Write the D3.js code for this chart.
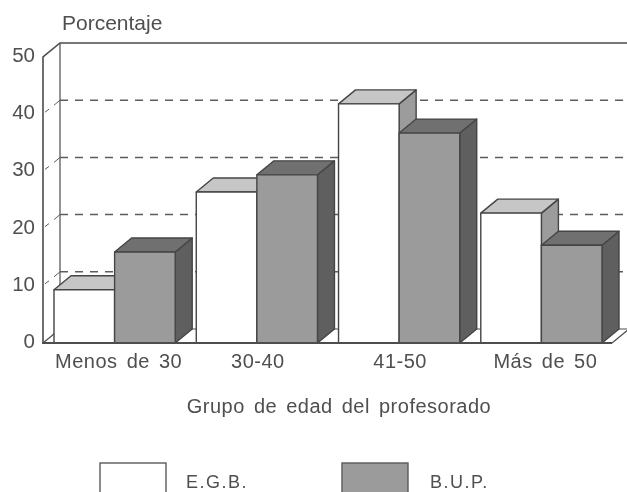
<!DOCTYPE html>
<html>
<head>
<meta charset="utf-8">
<script src="https://cdn.jsdelivr.net/npm/d3@7"></script>
<style>
html, body { margin: 0; padding: 0; background: #fff; overflow: hidden; }
text { font-family: "Liberation Sans", Arial, sans-serif; fill: #4f4f4f; }
</style>
</head>
<body>
<div id="chart"></div>
<script>
var categories = ["Menos de 30", "30-40", "41-50", "Más de 50"];
var seriesNames = ["E.G.B.", "B.U.P."];
var egbValues = [9.3, 26.4, 41.8, 22.7];
var bupValues = [15.9, 29.4, 36.7, 17.1];
var yTicks = [0, 10, 20, 30, 40, 50];
var gridValues = [10, 20, 30, 40];

function init() {
    var w = 627, h = 492;
    var dx = 17, dy = -14;   // depth offset of the 3d look
    var lineColor = "#4d4d4d";
    var shades = [
        { front: "#ffffff", top: "#c6c6c6", side: "#9c9c9c" },
        { front: "#9b9b9b", top: "#707070", side: "#5f5f5f" }
    ];

    var svg = d3.select("#chart").append("svg")
        .attr("width", w)
        .attr("height", h)
        .attr("viewBox", [0, 0, w, h]);

    // the reference is a scan, soften everything a little
    svg.append("filter").attr("id", "soft")
        .append("feGaussianBlur").attr("stdDeviation", 0.45);
    var root = svg.append("g").attr("filter", "url(#soft)");

    var xScale = d3.scaleBand().domain(categories).range([54, 602]).paddingInner(0.148);
    var xInner = d3.scaleBand().domain(seriesNames).range([0, xScale.bandwidth()]);
    var yScale = d3.scaleLinear().domain([0, 50]).range([343, 57]);

    var left = xScale.range()[0] - 11;
    var right = 612;
    var base = yScale(0);

    // back wall, floor and side wall
    var walls = root.append("g").attr("fill", "none").attr("stroke", lineColor);
    walls.append("path")
        .attr("stroke-width", 1.6)
        .attr("d", `M${left},${base}V${yScale(50)}l${dx},${dy}H${w}`);
    walls.append("path")
        .attr("stroke-width", 1.2)
        .attr("d", `M${left + dx},${yScale(50) + dy}V${base + dy}H${right + dx}`);
    walls.append("path")
        .attr("stroke-width", 1.2)
        .attr("d", `M${left},${base}l${dx},${dy}M${right},${base}l${dx},${dy}`);

    // dashed grid on the back wall with the short ticks on the side wall
    var grid = root.append("g").attr("stroke", "#5c5c5c").attr("fill", "none");
    grid.selectAll(".grid")
        .data(gridValues)
        .enter()
        .append("line")
        .attr("class", "grid")
        .attr("x1", left + dx)
        .attr("x2", w)
        .attr("y1", d => yScale(d) + dy)
        .attr("y2", d => yScale(d) + dy)
        .attr("stroke-width", 1.5)
        .attr("stroke-dasharray", "8,7");
    grid.selectAll(".side")
        .data(gridValues)
        .enter()
        .append("path")
        .attr("class", "side")
        .attr("stroke-width", 1)
        .attr("d", d => `M${left + 2},${yScale(d) - 2}l4,-3M${left + dx - 6},${yScale(d) + dy + 5}l6,-5`);

    // bars, E.G.B. first so B.U.P. sits over its side face
    var groups = root.selectAll(".group")
        .data(categories)
        .enter()
        .append("g")
        .attr("class", "group")
        .attr("transform", d => `translate(${xScale(d)},0)`);

    var barData = (d, i) => [
        { name: seriesNames[0], value: egbValues[i], s: shades[0] },
        { name: seriesNames[1], value: bupValues[i], s: shades[1] }
    ];
    var bars = groups.selectAll(".bar")
        .data((d) => barData(d, categories.indexOf(d)))
        .enter()
        .append("g")
        .attr("class", "bar")
        .attr("stroke", "#454545")
        .attr("stroke-width", 1.4)
        .attr("stroke-linejoin", "round");

    var bw = xInner.bandwidth();
    bars.append("path")
        .attr("fill", d => d.s.side)
        .attr("d", d => {
            var x = xInner(d.name) + bw;
            return `M${x},${base}V${yScale(d.value)}l${dx},${dy}V${base + dy}Z`;
        });
    bars.append("path")
        .attr("fill", d => d.s.top)
        .attr("d", d => {
            var x = xInner(d.name), y = yScale(d.value);
            return `M${x},${y}l${dx},${dy}h${bw}l${-dx},${-dy}Z`;
        });
    bars.append("rect")
        .attr("fill", d => d.s.front)
        .attr("x", d => xInner(d.name))
        .attr("y", d => yScale(d.value))
        .attr("width", bw)
        .attr("height", d => base - yScale(d.value));

    // front floor line goes over the bars
    root.append("line")
        .attr("x1", left - 1).attr("x2", right)
        .attr("y1", base).attr("y2", base)
        .attr("stroke", lineColor).attr("stroke-width", 2);

    // axes: only their text is shown, the lines are drawn above
    var yAxis = root.append("g")
        .attr("transform", `translate(35,-2)`)
        .call(d3.axisLeft(yScale).tickValues(yTicks).tickSize(0).tickPadding(0));
    yAxis.select(".domain").remove();
    yAxis.selectAll("text").attr("font-size", 20.5);

    var xAxis = root.append("g")
        .attr("transform", `translate(4,352)`)
        .call(d3.axisBottom(xScale).tickSize(0).tickPadding(2));
    xAxis.select(".domain").remove();
    xAxis.selectAll("text")
        .attr("font-size", 20)
        .attr("letter-spacing", 0.5)
        .attr("word-spacing", 3)
        .attr("x", (d, i) => (i == 1 || i == 2) ? -3 : 0);  // middle labels sit a bit left

    root.append("text").attr("x", 62).attr("y", 30).attr("font-size", 21).text("Porcentaje");
    root.append("text")
        .attr("x", 339).attr("y", 413)
        .attr("text-anchor", "middle")
        .attr("font-size", 20)
        .attr("letter-spacing", 0.5)
        .attr("word-spacing", 3)
        .text("Grupo de edad del profesorado");

    // legend, swatches run off the bottom edge
    var legendX = d3.scaleOrdinal().domain(seriesNames).range([100, 342]);
    var legend = root.selectAll(".legend")
        .data(seriesNames)
        .enter()
        .append("g")
        .attr("class", "legend")
        .attr("transform", d => `translate(${legendX(d)},463)`);
    legend.append("rect")
        .attr("width", 66)
        .attr("height", 40)
        .attr("fill", (d, i) => shades[i].front)
        .attr("stroke", "#5a5a5a")
        .attr("stroke-width", 1.4);
    legend.append("text")
        .attr("x", (d, i) => i ? 88 : 86)
        .attr("y", 25)
        .attr("font-size", 18)
        .attr("letter-spacing", 1.5)
        .text(d => d);
}

window.onload = init;
</script>
</body>
</html>
